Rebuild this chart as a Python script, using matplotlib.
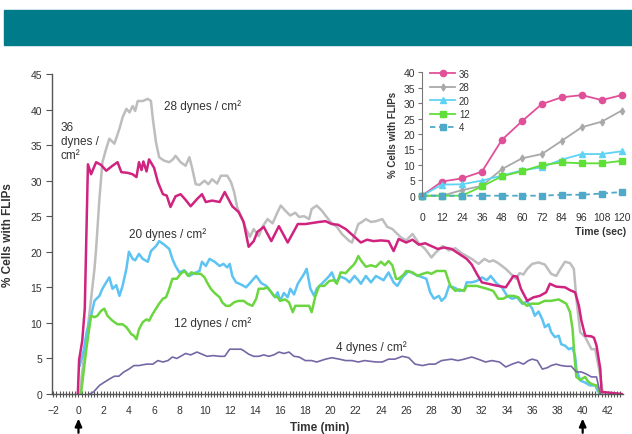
import matplotlib
matplotlib.use('Agg')
import matplotlib.pyplot as plt
from matplotlib.patches import Rectangle
from matplotlib.ticker import MultipleLocator

plt.rcParams['font.family'] = ['Liberation Sans', 'DejaVu Sans']

# shear stress runs, % cells with FLIPs vs time (min)
t36 = [-0.05, 0.05, 0.3, 0.5, 0.75, 1.0, 1.4, 1.8, 2.2, 2.7, 3.1, 3.4, 3.9, 4.3, 4.6, 4.8, 5.0, 5.15, 5.4, 5.6,
       6.0, 6.3, 6.7, 7.0, 7.3, 7.7, 8.1, 8.5, 8.9, 9.4, 9.8, 10.1, 10.6, 11.2, 11.6, 12.2, 12.7, 13.1, 13.5, 13.9,
       14.2, 14.7, 15.3, 15.9, 16.6, 17.4, 18.0, 19.1, 19.6, 20.1, 20.6, 21.2, 21.9, 22.4, 22.9, 23.4, 24.0, 24.6, 25.0, 25.4,
       26.0, 26.5, 27.0, 27.5, 28.0, 28.5, 29.0, 29.6, 30.2, 30.8, 31.2, 31.6, 32.0, 32.5, 33.0, 33.9, 34.5, 34.8, 35.1, 35.6,
       36.1, 36.6, 37.1, 37.4, 37.9, 38.6, 39.0, 39.4, 39.7, 39.9, 40.2, 40.7, 40.9, 41.1, 41.4, 41.5, 43.1]
v36 = [0, 4.8, 7.5, 12, 32.3, 30.9, 32.6, 32.2, 31.4, 32.1, 32.6, 31.2, 31.1, 30.9, 30.5, 32.6, 31.5, 32.7, 31.3, 33,
       31.8, 29.8, 28.1, 27.9, 26.3, 27.8, 28.1, 27.3, 26.4, 27.4, 28.1, 27.0, 27.2, 27.0, 28.4, 26.4, 25.6, 24.2, 20.7, 21.5,
       22.8, 23.5, 21.5, 23.6, 21.3, 23.9, 23.9, 24.2, 24.3, 23.9, 23.8, 23.2, 22.1, 21.3, 21.7, 21.5, 21.6, 21.5, 20.1, 21.8,
       21.3, 21.7, 21.0, 21.2, 20.8, 20.4, 20.6, 20.4, 19.7, 19.0, 18.2, 16.9, 15.7, 15.5, 15.3, 15.0, 16.6, 16.5, 14.8, 13.1,
       13.6, 13.8, 14.3, 15.5, 15.1, 15.0, 14.6, 14.3, 12.4, 10.3, 8.2, 8.1, 7.9, 6.8, 3.5, 0.3, 0]

t28 = [0.15, 0.25, 0.7, 1.27, 1.4, 1.66, 1.9, 2.2, 2.45, 2.85, 3.25, 3.5, 3.8, 4.05, 4.3, 4.5, 4.7, 5.1, 5.5, 5.75,
       5.9, 6.15, 6.4, 6.8, 7.2, 7.5, 7.7, 8.1, 8.5, 8.8, 9.0, 9.3, 9.6, 10.0, 10.3, 10.6, 11.0, 11.3, 11.8, 12.1,
       12.35, 12.6, 13.0, 13.3, 13.6, 13.9, 14.3, 14.6, 15.0, 15.4, 15.8, 16.05, 16.4, 16.8, 17.2, 17.5, 17.9, 18.3, 18.5, 18.9,
       19.3, 19.6, 20.0, 20.5, 20.9, 21.5, 21.7, 22.2, 22.5, 22.8, 23.2, 23.6, 24.1, 24.5, 24.9, 25.3, 25.6, 26.0, 26.5, 27.0,
       27.5, 28.0, 28.4, 28.9, 29.4, 29.9, 30.4, 31.2, 31.75, 32.2, 32.6, 32.9, 33.3, 33.9, 34.3, 34.7, 35.0, 35.3, 35.6, 36.0,
       36.5, 37.0, 37.5, 37.9, 38.2, 38.6, 39.0, 39.3, 39.5, 39.8, 40.2, 40.7, 41.0, 41.4, 41.6]
v28 = [0, 2.5, 8.7, 17.6, 20.4, 27.4, 32.6, 34.5, 35.9, 35.2, 37.3, 38.9, 40.1, 39.6, 40.5, 39.8, 41.2, 41.2, 41.5, 41.2,
       38.7, 35.4, 33.3, 32.8, 32.6, 33.0, 33.5, 32.6, 32.1, 33.3, 31.9, 29.5, 29.4, 30.0, 29.5, 30.2, 29.6, 30.7, 30.7, 29.8,
       28.4, 26.2, 24.6, 23.2, 22.1, 23.2, 22.2, 23.5, 24.6, 24.0, 25.6, 26.5, 25.8, 25.1, 25.5, 24.9, 25.0, 24.6, 26.0, 26.5,
       25.8, 25.1, 24.2, 23.5, 22.5, 21.5, 21.3, 23.9, 24.2, 24.6, 24.2, 24.3, 24.6, 23.5, 23.2, 22.5, 22.0, 21.6, 22.5, 21.2,
       20.4, 19.2, 20.0, 20.8, 20.2, 20.5, 19.8, 19.0, 18.3, 19.0, 18.6, 18.8, 18.4, 17.6, 16.9, 16.2, 17.0, 16.8, 17.6, 18.3,
       18.5, 18.2, 16.9, 16.6, 17.5, 18.6, 18.4, 17.6, 13.4, 8.7, 8.0, 6.3, 6.3, 2.5, 0]

t20 = [0.1, 0.4, 0.65, 1.0, 1.27, 1.66, 1.9, 2.2, 2.45, 2.7, 3.0, 3.25, 3.5, 3.8, 4.0, 4.3, 4.5, 4.8, 5.1, 5.5,
       5.75, 6.15, 6.4, 6.8, 7.2, 7.45, 7.7, 8.0, 8.4, 8.8, 9.2, 9.6, 9.8, 10.1, 10.4, 10.8, 11.2, 11.5, 11.8, 12.0,
       12.2, 12.5, 12.9, 13.3, 13.7, 14.1, 14.5, 14.9, 15.3, 15.6, 15.8, 16.0, 16.3, 16.6, 16.8, 17.1, 17.4, 17.9, 18.1, 18.4,
       18.7, 18.9, 19.3, 19.9, 20.1, 20.4, 20.8, 21.2, 21.5, 21.9, 22.2, 22.4, 22.8, 23.2, 23.6, 24.2, 24.6, 25.0, 25.3, 25.7,
       26.2, 26.6, 27.0, 27.6, 27.9, 28.2, 28.6, 28.8, 29.1, 29.4, 29.9, 30.2, 30.6, 30.8, 31.2, 31.6, 32.0, 32.4, 32.7, 33.2,
       33.6, 34.0, 34.4, 34.8, 35.2, 35.6, 36.0, 36.2, 36.5, 36.8, 37.0, 37.3, 37.5, 37.8, 38.1, 38.3, 38.6, 38.9, 39.2, 39.4,
       39.5, 39.8, 40.2, 40.6, 41.0, 41.2, 41.4]
v20 = [4, 6, 8.7, 11, 13.1, 13.8, 14.8, 15.7, 16.4, 14.8, 15.3, 13.8, 15.2, 17.6, 20, 19, 18.8, 19.7, 19.0, 18.6,
       20.1, 20.8, 21.5, 21.0, 20.4, 19.0, 18.0, 17.1, 17.4, 16.6, 17.0, 17.3, 18.6, 18.0, 19.0, 18.6, 18.0, 18.3, 17.8, 18.3,
       16.6, 15.7, 15.4, 15.0, 15.8, 16.6, 15.6, 15.2, 14.3, 13.6, 14.3, 13.1, 14.2, 13.6, 14.8, 14.0, 15.5, 16.9, 17.6, 14.8,
       13.8, 14.8, 15.5, 16.6, 17.1, 15.7, 16.5, 16.2, 15.7, 16.6, 16.0, 15.5, 16.6, 15.7, 16.6, 16.0, 17.1, 15.7, 15.2, 16.4,
       17.3, 16.9, 16.6, 16.2, 14.3, 13.4, 13.8, 13.1, 13.6, 15.2, 14.9, 14.5, 14.6, 15.7, 15.7, 15.9, 16.4, 16.0, 16.6, 15.5,
       15.0, 13.8, 13.4, 13.6, 12.7, 13.0, 12.0, 11.0, 11.6, 10.5, 9.4, 9.8, 8.7, 8.0, 8.2, 7.0, 6.8, 6.3, 6.5, 5.3,
       3.5, 1.9, 1.6, 1.2, 1.2, 0.4, 0]

t12 = [0.2, 0.6, 1.0, 1.27, 1.5, 1.8, 2.05, 2.3, 2.7, 3.1, 3.5, 3.8, 4.2, 4.4, 4.6, 4.8, 5.1, 5.4, 5.6, 5.9,
       6.15, 6.4, 6.7, 6.95, 7.2, 7.45, 7.8, 8.1, 8.4, 8.7, 8.95, 9.3, 9.7, 10.0, 10.2, 10.5, 10.8, 11.2, 11.4, 11.7,
       12.0, 12.35, 12.7, 13.1, 13.4, 13.8, 14.1, 14.3, 14.7, 15.0, 15.3, 15.5, 15.8, 16.0, 16.4, 16.7, 17.0, 17.2, 17.6, 18.0,
       18.3, 18.5, 18.8, 19.1, 19.5, 19.9, 20.3, 20.5, 20.8, 21.2, 21.5, 21.8, 22.0, 22.2, 22.4, 22.8, 23.2, 23.6, 24.0, 24.3,
       24.6, 24.9, 25.2, 25.4, 25.8, 26.0, 26.5, 26.9, 27.3, 27.7, 28.0, 28.4, 28.8, 29.1, 29.5, 29.9, 30.2, 30.6, 30.8, 31.2,
       31.6, 32.0, 32.4, 32.9, 33.3, 33.7, 34.1, 34.5, 34.9, 35.2, 35.6, 35.9, 36.5, 37.0, 37.5, 38.1, 38.4, 38.7, 39.0, 39.2,
       39.35, 39.5, 39.8, 40.2, 40.4, 40.7, 41.1, 41.4]
v12 = [0, 6, 11, 10.8, 11.0, 11.7, 12.0, 11.0, 10.3, 9.8, 9.8, 9.4, 8.4, 8.2, 7.7, 9.1, 10.1, 10.5, 10.3, 11.3,
       12.0, 12.7, 13.4, 13.6, 14.8, 16.2, 16.2, 16.9, 17.3, 16.6, 17.1, 16.9, 16.9, 16.4, 15.7, 14.8, 14.2, 13.6, 12.9, 12.4,
       12.4, 12.9, 13.1, 13.1, 12.7, 12.4, 13.4, 14.8, 14.8, 15.0, 14.3, 13.8, 13.6, 13.1, 13.3, 12.9, 11.5, 12.4, 12.4, 12.4,
       12.4, 11.5, 13.8, 15.2, 15.2, 15.9, 16.0, 15.5, 17.1, 17.0, 17.6, 18.1, 18.6, 19.4, 18.8, 17.9, 18.1, 17.9, 18.6, 18.1,
       18.7, 18.1, 16.2, 16.2, 16.8, 17.3, 17.1, 16.6, 16.9, 17.1, 16.9, 17.3, 17.3, 17.3, 15.2, 14.5, 14.7, 14.5, 15.2, 15.2,
       15.2, 15.0, 14.8, 14.5, 13.4, 13.4, 13.8, 13.8, 13.6, 12.9, 12.4, 12.7, 12.7, 13.1, 13.1, 13.3, 13.0, 12.7, 11.5, 9.1,
       5.3, 2.4, 2.0, 2.4, 1.8, 1.4, 1.2, 0]

t4 = [0.9, 1.2, 1.66, 2.0, 2.45, 2.85, 3.2, 3.6, 4.0, 4.4, 4.8, 5.4, 5.9, 6.3, 6.7, 7.1, 7.45, 7.8, 8.1, 8.5,
      8.9, 9.4, 9.8, 10.2, 10.7, 11.2, 11.6, 12.0, 12.4, 12.9, 13.1, 13.5, 13.9, 14.3, 14.7, 15.1, 15.5, 15.9, 16.3, 16.7,
      17.1, 17.5, 18.0, 18.5, 18.9, 19.6, 20.1, 20.7, 21.2, 21.7, 22.2, 22.7, 23.6, 24.1, 24.6, 25.1, 25.7, 26.2, 26.7, 27.3,
      27.8, 28.3, 28.8, 29.6, 30.1, 30.6, 31.2, 31.7, 32.3, 32.8, 33.4, 33.9, 34.4, 34.9, 35.3, 35.7, 36.0, 36.4, 36.8, 37.2,
      37.5, 37.9, 38.3, 38.7, 39.1, 39.5, 39.9, 40.3, 40.7, 41.1, 41.2, 41.4]
v4 = [0, 0.3, 1.2, 1.6, 2.1, 2.5, 2.5, 3.1, 3.5, 4.0, 4.0, 4.2, 4.2, 4.7, 4.5, 4.7, 5.2, 5.0, 5.3, 5.7,
      5.5, 5.9, 5.6, 5.3, 5.4, 5.3, 5.3, 6.3, 6.3, 6.3, 6.1, 5.6, 5.3, 5.3, 5.5, 5.3, 5.5, 5.9, 5.7, 5.9,
      5.3, 5.2, 4.7, 4.7, 4.5, 4.9, 5.1, 4.9, 4.7, 4.7, 4.5, 4.7, 4.5, 4.5, 4.9, 4.9, 5.3, 5.1, 4.2, 4.0,
      4.2, 4.2, 4.7, 4.9, 4.7, 4.9, 5.2, 4.9, 4.5, 4.7, 4.5, 3.8, 4.2, 4.5, 4.2, 4.7, 4.9, 4.7, 3.5, 3.7,
      4.0, 4.2, 4.0, 3.9, 3.9, 3.1, 3.1, 2.8, 2.4, 2.4, 1.6, 0]

# first two minutes, sampled every 12 s
sec = [0, 12, 24, 36, 48, 60, 72, 84, 96, 108, 120]
s36 = [0, 4.6, 5.6, 7.8, 18.1, 24.1, 29.7, 31.9, 32.6, 31.0, 32.6]
s28 = [0, 0, 1.8, 3.2, 8.6, 12.1, 13.5, 17.8, 22.2, 24.0, 27.6]
s20 = [0, 3.6, 3.7, 4.9, 6.5, 8.2, 9.2, 11.7, 13.5, 13.5, 14.4]
s12 = [0, 0, 0, 3.0, 6.3, 7.9, 9.9, 10.8, 10.5, 10.5, 11.3]
s4 = [0, 0, 0, 0, 0, 0, 0, 0.3, 0.3, 0.7, 1.2]

txt = '#333333'
fig = plt.figure(figsize=(6.32, 4.35), dpi=100)

# header band
fig.patches.append(Rectangle((4 / 632, 1 - 46 / 435), 628 / 632, 35 / 435,
                             transform=fig.transFigure, color='#007b8a', zorder=0))

ax = fig.add_axes([52 / 632, 1 - 395 / 435, 571 / 632, 320 / 435])
ax.plot(t28, v28, color='#bdbdbd', lw=1.8)
ax.plot(t20, v20, color='#5cc3f2', lw=1.8)
ax.plot(t12, v12, color='#6bd640', lw=1.8)
ax.plot(t4, v4, color='#7567a6', lw=1.2)
ax.plot(t36, v36, color='#d0237f', lw=1.8)

ax.set_xlim(-2.1, 43.2)
ax.set_ylim(0, 45)
ax.xaxis.set_major_locator(MultipleLocator(2))
ax.xaxis.set_minor_locator(MultipleLocator(0.25))
ax.yaxis.set_major_locator(MultipleLocator(5))
for s in ['top', 'right']:
    ax.spines[s].set_visible(False)
for s in ['left', 'bottom']:
    ax.spines[s].set_color('#555555')
    ax.spines[s].set_linewidth(1.0)
ax.tick_params(axis='x', which='both', direction='inout', length=4, width=0.8,
               color='#555555', labelsize=7.5, labelcolor=txt, pad=6)
ax.tick_params(axis='y', direction='out', length=4, width=0.8, color='#555555',
               labelsize=7.5, labelcolor=txt, pad=3)
ax.set_xlabel('Time (min)', fontsize=8.5, fontweight='bold', color=txt)
ax.xaxis.set_label_coords((320 - 52) / 571, -0.083)
ax.set_ylabel('% Cells with FLIPs', fontsize=8.5, fontweight='bold', color=txt)
ax.yaxis.set_label_coords(-0.067, 0.5)

# flow on / flow off markers
for xa in [0, 40]:
    ax.annotate('', xy=(xa, -0.068), xytext=(xa, -0.13),
                xycoords=('data', 'axes fraction'), textcoords=('data', 'axes fraction'),
                arrowprops=dict(arrowstyle='-|>,head_width=0.2,head_length=0.45',
                                color='black', lw=1.6), annotation_clip=False)

lab = dict(fontsize=8.5, color=txt)
ax.text(6.8, 40.6, '28 dynes / cm²', ha='left', va='center', **lab)
ax.text(-1.4, 35.6, '36\ndynes /\ncm²', ha='left', va='center', linespacing=1.25, **lab)
ax.text(4.0, 22.5, '20 dynes / cm²', ha='left', va='center', **lab)
ax.text(7.6, 10.1, '12 dynes / cm²', ha='left', va='center', **lab)
ax.text(20.4, 6.6, '4 dynes / cm²', ha='left', va='center', **lab)

# inset: first 120 s
ins = fig.add_axes([422 / 632, 1 - 196.7 / 435, 199.7 / 632, 123.4 / 435])
ins.patch.set_alpha(0)
ins.plot(sec, s36, color='#e05099', lw=1.3, marker='o', ms=4.5, label='36', clip_on=False)
ins.plot(sec, s28, color='#a9a9a9', lw=1.3, marker='d', ms=3.5, label='28', clip_on=False)
ins.plot(sec, s20, color='#5fd3f3', lw=1.3, marker='^', ms=4, label='20', clip_on=False)
ins.plot(sec, s12, color='#5fdf38', lw=1.3, marker='s', ms=4, label='12', clip_on=False)
ins.plot(sec, s4, color='#4fa9c9', lw=1.3, ls=(0, (3, 2)), marker='s', ms=4, label='4', clip_on=False)
ins.set_xlim(0, 120)
ins.set_ylim(0, 40)
ins.set_xticks(sec)
ins.yaxis.set_major_locator(MultipleLocator(5))
for s in ['top', 'right', 'bottom']:
    ins.spines[s].set_visible(False)
ins.spines['left'].set_color('#777777')
ins.spines['left'].set_linewidth(0.8)
ins.tick_params(axis='x', length=0, labelsize=7.5, labelcolor=txt, pad=12)
ins.tick_params(axis='y', length=3, width=0.8, color='#777777', labelsize=7.5,
                labelcolor=txt, pad=2)
ins.set_ylabel('% Cells with FLIPs', fontsize=7, fontweight='bold', color=txt, labelpad=4)
ins.text(1.02, -0.286, 'Time (sec)', transform=ins.transAxes, ha='right', va='center',
         fontsize=7.5, fontweight='bold', color=txt)
leg = ins.legend(loc='upper left', bbox_to_anchor=(0.02, 1.06), frameon=False, fontsize=7,
                 handlelength=2.6, handletextpad=0.4, labelspacing=0.35, borderaxespad=0)
for t in leg.get_texts():
    t.set_color(txt)

fig.savefig('out.png', dpi=100)
